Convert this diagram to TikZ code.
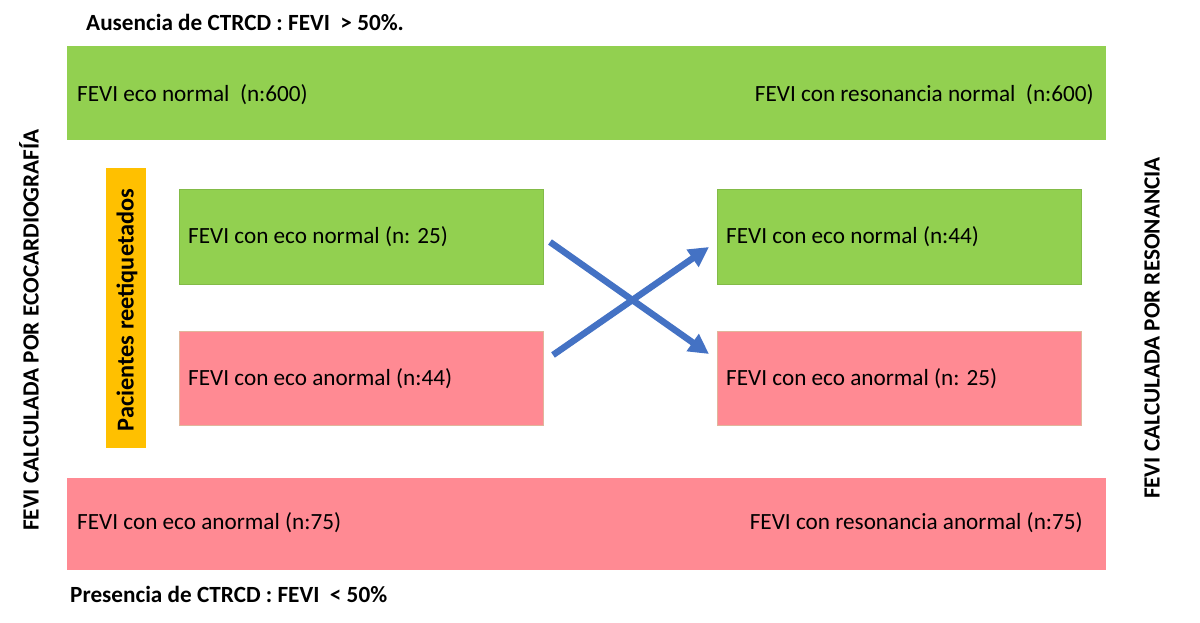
\documentclass[tikz,border=0pt]{standalone}
\usepackage{fontspec}
\setmainfont{Carlito}
\usetikzlibrary{arrows.meta}
\definecolor{grn}{HTML}{92D050}
\definecolor{pnk}{HTML}{FF8A93}
\definecolor{org}{HTML}{FFC000}
\definecolor{arr}{HTML}{4472C4}
\begin{document}
\begin{tikzpicture}[x=1pt,y=-1pt,
  txt/.style={font=\fontsize{23.2}{25}\selectfont,inner sep=0pt},
  ttl/.style={font=\fontsize{23.2}{25}\selectfont\bfseries,inner sep=0pt},
  xarrow/.style={draw=arr,line width=6.5pt,-{Triangle[length=20pt,width=20pt]}}]
\useasboundingbox (0,0) rectangle (1200,623);
% bars
\path[fill=grn] (67,46) rectangle (1106,140);
\path[fill=pnk] (67,478) rectangle (1106,570);
\node[txt,anchor=west] (topl) at (77,95) {FEVI eco normal\ \ (n:600)};
\node[txt,anchor=east] (topr) at (1094,95) {FEVI con resonancia normal\ \ (n:600)};
\node[txt,anchor=west] (botl) at (77,523) {FEVI con eco anormal (n:75)};
\node[txt,anchor=east] (botr) at (1083,523) {FEVI con resonancia anormal (n:75)};
% boxes
\node[draw=grn!90!black,fill=grn,minimum width=364pt,minimum height=95pt,inner sep=0pt] (lg) at (361,236.5) {};
\node[draw=pnk!60!olive!60,fill=pnk,minimum width=364pt,minimum height=94pt,inner sep=0pt] (lp) at (361,378) {};
\node[draw=grn!90!black,fill=grn,minimum width=364pt,minimum height=95pt,inner sep=0pt] (rg) at (899,236.5) {};
\node[draw=pnk!60!olive!60,fill=pnk,minimum width=364pt,minimum height=94pt,inner sep=0pt] (rp) at (899,378) {};
\node[txt,anchor=west] at (188,237) {FEVI con eco normal (n: 25)};
\node[txt,anchor=west] at (188,379) {FEVI con eco anormal (n:44)};
\node[txt,anchor=west] at (726,237) {FEVI con eco normal (n:44)};
\node[txt,anchor=west] at (726,379) {FEVI con eco anormal (n: 25)};
% orange
\node[fill=org,minimum width=40pt,minimum height=280pt,inner sep=0pt] (org) at (126,308) {};
\node[font=\fontsize{24.3}{26}\selectfont\bfseries,inner sep=0pt,rotate=90] at (127,310) {Pacientes reetiquetados};
% titles
\node[ttl,anchor=west] (tt) at (86,22) {Ausencia de CTRCD : FEVI\ \ > 50\%.};
\node[ttl,anchor=west] (bt) at (70,594) {Presencia de CTRCD : FEVI\ \ < 50\%};
\node[ttl,rotate=90] (lv) at (29,330) {FEVI CALCULADA POR ECOCARDIOGRAFÍA};
\node[ttl,rotate=90] (rv) at (1152,328) {FEVI CALCULADA POR RESONANCIA};
% arrows
\coordinate (a1) at (550,242);
\coordinate (a2) at (709,354);
\coordinate (b1) at (553,355);
\coordinate (b2) at (709,247);
\draw[xarrow] (a1) -- (a2);
\draw[xarrow] (b1) -- (b2);
\end{tikzpicture}
\end{document}
